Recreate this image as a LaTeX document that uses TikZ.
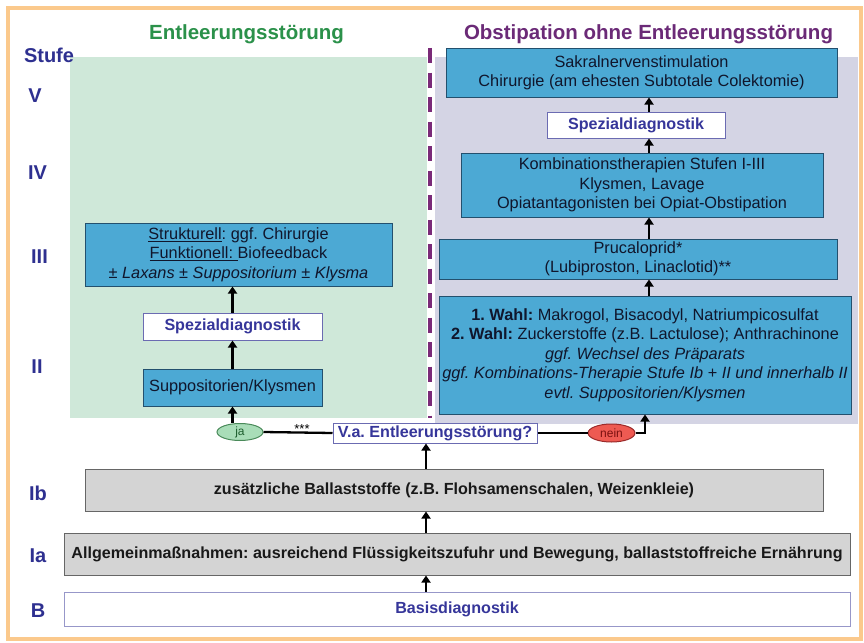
\documentclass[tikz,border=0pt]{standalone}
\usepackage{fontspec}
\setmainfont{Liberation Sans}
\usetikzlibrary{arrows.meta,shapes.geometric}
\definecolor{orangeb}{HTML}{FBC98C}
\definecolor{greenp}{HTML}{CFE8D9}
\definecolor{lavp}{HTML}{D4D4E4}
\definecolor{bluef}{HTML}{4CA9D4}
\definecolor{blued}{HTML}{23506E}
\definecolor{grayf}{HTML}{D4D4D4}
\definecolor{grayd}{HTML}{666666}
\definecolor{spezd}{HTML}{6B6BB2}
\definecolor{spezt}{HTML}{36369A}
\definecolor{hgreen}{HTML}{2B914A}
\definecolor{hpurple}{HTML}{6B2A77}
\definecolor{stufec}{HTML}{2E3090}
\definecolor{dashc}{HTML}{7A2A78}
\definecolor{jaf}{HTML}{A9DDB8}
\definecolor{jad}{HTML}{4A8A5A}
\definecolor{jat}{HTML}{1E5E2E}
\definecolor{neinf}{HTML}{EE5A52}
\definecolor{neind}{HTML}{9A2A2A}
\definecolor{neint}{HTML}{7A1010}
\definecolor{boxt}{HTML}{10162C}
\tikzset{
  bodyfont/.style={font=\fontsize{16.3}{19.5}\selectfont},
  bluebox/.style={draw=blued, line width=1pt, fill=bluef, text=boxt, align=center, inner sep=0pt, bodyfont},
  graybox/.style={draw=grayd, line width=1pt, fill=grayf, text=black!90, align=center, inner sep=0pt, font=\fontsize{16.1}{19}\selectfont\bfseries},
  spezbox/.style={draw=spezd, line width=1pt, fill=white, text=spezt, align=center, inner sep=0pt, font=\fontsize{16.1}{19}\selectfont\bfseries},
  stufelbl/.style={text=stufec, font=\fontsize{20}{24}\selectfont\bfseries, inner sep=0pt},
  arr/.style={draw=black, line width=2.3pt, -{Triangle[length=7pt,width=9pt]}},
  conn/.style={draw=black, line width=2.3pt},
}
\begin{document}
\frenchspacing
\begin{tikzpicture}[x=1pt,y=-1pt]
\useasboundingbox (0,0) rectangle (864,642);
\fill[white] (0,0) rectangle (864,642);
\draw[orangeb, line width=3.5pt] (8,8) rectangle (861,639);
% panels
\fill[greenp] (70,57) rectangle (427,418);
\fill[lavp] (435,57) rectangle (858,424);
\draw[dashc, line width=4pt, dash pattern=on 15pt off 9.5pt] (430,48) -- (430,418);
% headers
\node[text=hgreen, font=\fontsize{20.5}{24}\selectfont\bfseries, inner sep=0pt] (h1) at (246.5,34) {Entleerungsstörung};
\node[text=hpurple, font=\fontsize{20.5}{24}\selectfont\bfseries, inner sep=0pt] (h2) at (648.5,34) {Obstipation ohne Entleerungsstörung};
% stufe labels
\node[stufelbl] (sStufe) at (49,55) {Stufe};
\node[stufelbl] (sV) at (35,96) {V};
\node[stufelbl] (sIV) at (37.5,173) {IV};
\node[stufelbl] (sIII) at (39.5,257) {III};
\node[stufelbl] (sII) at (37,367) {II};
\node[stufelbl] (sIb) at (38,493) {Ib};
\node[stufelbl] (sIa) at (38,556) {Ia};
\node[stufelbl] (sB) at (38,611) {B};
% right column
\node[bluebox, minimum width=391pt, minimum height=48pt] (top) at (641.5,73) {Sakralnervenstimulation\\Chirurgie (am ehesten Subtotale Colektomie)};
\node[spezbox, minimum width=178pt, minimum height=26pt] (spezR) at (636,125) {Spezialdiagnostik};
\node[bluebox, minimum width=362pt, minimum height=64pt] (kombi) at (642,185) {Kombinationstherapien Stufen I-III\\Klysmen, Lavage\\Opiatantagonisten bei Opiat-Obstipation};
\node[bluebox, minimum width=398pt, minimum height=40pt] (pruc) at (638,259) {Prucaloprid*\\(Lubiproston, Linaclotid)**};
\node[bluebox, minimum width=412pt, minimum height=118pt] (wahl) at (645,355) {\textbf{1. Wahl:} Makrogol, Bisacodyl, Natriumpicosulfat\\\textbf{2. Wahl:} Zuckerstoffe (z.B. Lactulose); Anthrachinone\\\textit{ggf. Wechsel des Präparats}\\\textit{ggf. Kombinations-Therapie Stufe Ib + II und innerhalb II}\\\textit{evtl. Suppositorien/Klysmen}};
% left column
\node[bluebox, minimum width=307pt, minimum height=63pt] (strukt) at (238.5,254.5) {\underline{Strukturell}: ggf. Chirurgie\\\underline{Funktionell: }Biofeedback\\\textit{± Laxans ± Suppositorium ± Klysma}};
\node[spezbox, minimum width=179pt, minimum height=27pt] (spezL) at (232.5,326.5) {Spezialdiagnostik};
\node[bluebox, minimum width=179pt, minimum height=37pt] (supp) at (232.5,387.5) {Suppositorien/Klysmen};
% decision
\node[spezbox, minimum width=204pt, minimum height=20pt] (va) at (435,433) {V.a. Entleerungsstörung?};
\node[ellipse, draw=jad, line width=1pt, fill=jaf, text=jat, minimum width=46pt, minimum height=17pt, inner sep=0pt, font=\fontsize{12}{14}\selectfont] (ja) at (240,432) {ja};
\node[ellipse, draw=neind, line width=1pt, fill=neinf, text=neint, minimum width=47pt, minimum height=18pt, inner sep=0pt, font=\fontsize{12}{14}\selectfont] (nein) at (611.5,433) {nein};
\node[font=\fontsize{13}{15}\selectfont, inner sep=0pt] (stars) at (302,429) {***};
% bottom
\node[graybox, minimum width=738pt, minimum height=42pt] (Ib) at (454,490) {zusätzliche Ballaststoffe (z.B. Flohsamenschalen, Weizenkleie)};
\node[graybox, minimum width=786pt, minimum height=42pt] (Ia) at (457,554) {Allgemeinmaßnahmen: ausreichend Flüssigkeitszufuhr und Bewegung, ballaststoffreiche Ernährung};
\node[spezbox, draw=spezd!70, minimum width=786pt, minimum height=34pt] (B) at (457,609) {Basisdiagnostik};
% column coordinates
\coordinate (cR) at (649,0);
\coordinate (cM) at (426,0);
% connectors
\draw[arr] (B.north -| cM) -- (Ia.south -| cM);
\draw[arr] (Ia.north -| cM) -- (Ib.south -| cM);
\draw[arr] (Ib.north -| cM) -- (va.south -| cM);
\draw[conn] (ja.east) -- (va.west);
\draw[conn] (va.east) -- (nein.west);
\draw[arr] (nein.east) -| (wahl.south);
\draw[arr] (ja.north -| supp.south) -- (supp.south);
\draw[arr] (supp.north) -- (spezL.south);
\draw[arr] (spezL.north) -- (strukt.south -| spezL.north);
\draw[arr] (wahl.north -| cR) -- (pruc.south -| cR);
\draw[arr] (pruc.north -| cR) -- (kombi.south -| cR);
\draw[arr] (kombi.north -| cR) -- (spezR.south -| cR);
\draw[arr] (spezR.north -| cR) -- (top.south -| cR);
\end{tikzpicture}
\end{document}
